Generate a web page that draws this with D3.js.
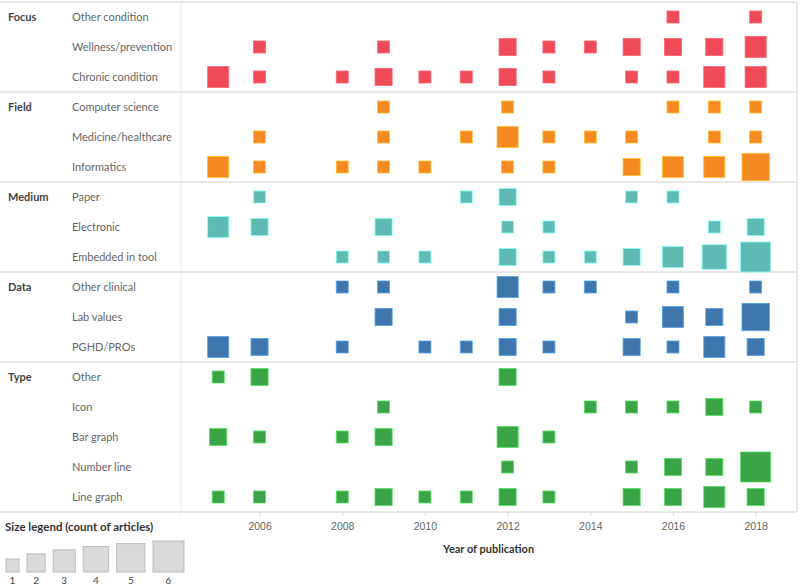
<!DOCTYPE html>
<html lang="en">
<head>
<meta charset="utf-8">
<title>Visualization studies by year</title>
<script src="https://cdn.jsdelivr.net/npm/d3@7"></script>
<style>
  body { margin: 0; background: #fff; }
  svg { display: block; font-family: Lato, "Open Sans", sans-serif; }
  .axis .domain { display: none; }
  .axis line { stroke: #ddd; }
  .axis text { fill: #666; font-size: 10.5px; }
</style>
</head>
<body>
<svg id="chart" width="800" height="584"></svg>
<script>
// years on the x axis
var years = [2005, 2006, 2007, 2008, 2009, 2010, 2011, 2012, 2013, 2014, 2015, 2016, 2017, 2018];
var tickYears = [2006, 2008, 2010, 2012, 2014, 2016, 2018];

var groups = ["Focus", "Field", "Medium", "Data", "Type"];
var groupColors = ["#ef4a57", "#f58a22", "#5fbab2", "#3f76ab", "#3ba447"];

var focusRows = ["Other condition", "Wellness/prevention", "Chronic condition"];
var focusCounts = [
  [0,0,0,0,0,0,0,0,0,0,0,1,0,1],
  [0,1,0,0,1,0,0,2,1,1,2,2,2,3],
  [3,1,0,1,2,1,1,2,1,0,1,1,3,3]
];

var fieldRows = ["Computer science", "Medicine/healthcare", "Informatics"];
var fieldCounts = [
  [0,0,0,0,1,0,0,1,0,0,0,1,1,1],
  [0,1,0,0,1,0,1,3,1,1,1,0,1,1],
  [3,1,0,1,1,1,0,1,1,0,2,3,3,5]
];

var mediumRows = ["Paper", "Electronic", "Embedded in tool"];
var mediumCounts = [
  [0,1,0,0,0,0,1,2,0,0,1,1,0,0],
  [3,2,0,0,2,0,0,1,1,0,0,0,1,2],
  [0,0,0,1,1,1,0,2,1,1,2,3,4,6]
];

var dataRows = ["Other clinical", "Lab values", "PGHD/PROs"];
var dataCounts = [
  [0,0,0,1,1,0,0,3,1,1,0,1,0,1],
  [0,0,0,0,2,0,0,2,0,0,1,3,2,5],
  [3,2,0,1,0,1,1,2,1,0,2,1,3,2]
];

var typeRows = ["Other", "Icon", "Bar graph", "Number line", "Line graph"];
var typeCounts = [
  [1,2,0,0,0,0,0,2,0,0,0,0,0,0],
  [0,0,0,0,1,0,0,0,0,1,1,1,2,1],
  [2,1,0,1,2,0,0,3,1,0,0,0,0,0],
  [0,0,0,0,0,0,0,1,0,0,1,2,2,6],
  [1,1,0,1,2,1,1,2,1,0,2,2,3,2]
];

var legendCounts = [1, 2, 3, 4, 5, 6];

var allRows = [focusRows, fieldRows, mediumRows, dataRows, typeRows];
var allCounts = [focusCounts, fieldCounts, mediumCounts, dataCounts, typeCounts];

// flatten into rows and marks
var rows = [], marks = [];
allRows.forEach(function (names, gi) {
  names.forEach(function (name, ri) {
    var key = groups[gi] + "|" + name;
    rows.push({ key: key, group: groups[gi], name: name, gi: gi, first: ri == 0 });
    allCounts[gi][ri].forEach(function (c, yi) {
      if (c > 0) marks.push({ key: key, year: years[yi], count: c, gi: gi });
    });
  });
});

var svg = d3.select("#chart");
var plotLeft = 181, plotRight = 797, plotTop = 2, plotBottom = 512;

var x = d3.scaleLinear().domain([2004.1, 2019]).range([plotLeft, plotRight]);
var y = d3.scaleBand().domain(rows.map(function (d) { return d.key; })).range([plotTop, plotBottom]);
var size = d3.scaleSqrt().domain([1, 6]).range([12, 30]);

// frame and separators
var grid = svg.append("g").attr("stroke", "#e0e0e0").attr("fill", "none");
grid.append("line").attr("x1", 0).attr("x2", plotRight).attr("y1", plotTop).attr("y2", plotTop).attr("stroke-width", 1.5);
grid.append("line").attr("x1", plotLeft).attr("x2", plotLeft).attr("y1", plotTop).attr("y2", plotBottom + 4).attr("stroke", "#ebebeb");
grid.append("line").attr("x1", plotRight).attr("x2", plotRight).attr("y1", plotTop).attr("y2", plotBottom).attr("stroke-width", 1.5);
rows.filter(function (d) { return d.first && d.gi > 0; }).forEach(function (d) {
  grid.append("line").attr("x1", 0).attr("x2", plotRight)
    .attr("y1", y(d.key)).attr("y2", y(d.key)).attr("stroke-width", 1.5);
});
grid.append("line").attr("x1", 0).attr("x2", plotRight).attr("y1", plotBottom).attr("y2", plotBottom).attr("stroke-width", 1.5);

// row headers
var labels = svg.append("g").attr("font-size", 11);
rows.forEach(function (d) {
  var cy = y(d.key) + y.bandwidth() / 2;
  if (d.first) {
    labels.append("text").attr("x", 8).attr("y", cy).attr("dy", "0.35em")
      .attr("font-weight", "bold").attr("fill", "#444").text(d.group);
  }
  labels.append("text").attr("x", 72).attr("y", cy).attr("dy", "0.35em")
    .attr("fill", "#666").text(d.name);
});

// squares
svg.append("g").selectAll("rect")
  .data(marks)
  .enter().append("rect")
  .attr("x", function (d) { return x(d.year) - size(d.count) / 2; })
  .attr("y", function (d) { return y(d.key) + y.bandwidth() / 2 - size(d.count) / 2; })
  .attr("width", function (d) { return size(d.count); })
  .attr("height", function (d) { return size(d.count); })
  .attr("fill", function (d) { return groupColors[d.gi]; })
  .attr("stroke", function (d) { return d3.color(groupColors[d.gi]).brighter(0.9); })
  .attr("stroke-width", 0.8);

// x axis
svg.append("g")
  .attr("class", "axis")
  .attr("transform", "translate(0," + plotBottom + ")")
  .call(d3.axisBottom(x).tickValues(tickYears).tickFormat(d3.format("d")).tickSize(4).tickPadding(7));

svg.append("text").attr("x", 443).attr("y", 549).attr("dy", "0.35em")
  .attr("font-size", 11).attr("font-weight", "bold").attr("fill", "#333")
  .text("Year of publication");

// size legend
svg.append("text").attr("x", 5).attr("y", 527).attr("dy", "0.35em")
  .attr("font-size", 11.5).attr("font-weight", "bold").attr("fill", "#333")
  .text("Size legend (count of articles)");

var lx = 6;
var legend = svg.append("g");
legendCounts.forEach(function (c) {
  var s = size(c) + 1;
  legend.append("rect").attr("x", lx).attr("y", 572 - s).attr("width", s).attr("height", s)
    .attr("fill", "#d9d9d9").attr("stroke", "#bdbdbd").attr("stroke-width", 1);
  legend.append("text").attr("x", lx + s / 2).attr("y", 580).attr("dy", "0.35em")
    .attr("text-anchor", "middle").attr("font-size", 10).attr("fill", "#444").text(c);
  lx += s + 8;
});
</script>
</body>
</html>
